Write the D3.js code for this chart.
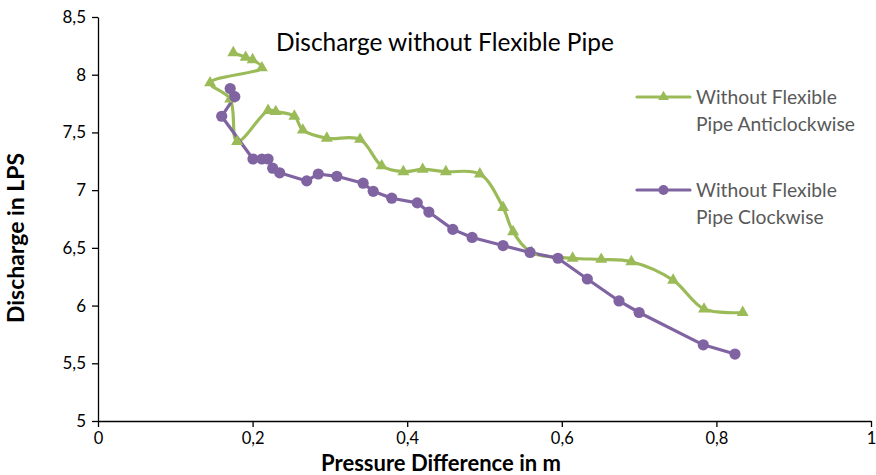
<!DOCTYPE html>
<html><head><meta charset="utf-8">
<script src="https://cdn.jsdelivr.net/npm/d3@7"></script>
<style>body{margin:0;background:#fff}svg{display:block}</style>
</head><body>
<svg id="c" width="876" height="475"></svg>
<script>
// ---- data ----
const chartTitle = "Discharge without Flexible Pipe";
const xTitle = "Pressure Difference in m";
const yTitle = "Discharge in LPS";
const seriesNames = [["Without Flexible", "Pipe Anticlockwise"], ["Without Flexible", "Pipe Clockwise"]];

const antiX = [0.175, 0.191, 0.2, 0.212, 0.145, 0.171, 0.180, 0.220, 0.230, 0.254, 0.265, 0.296, 0.339, 0.367, 0.395, 0.420, 0.450, 0.494, 0.524, 0.537, 0.561, 0.614, 0.651, 0.690, 0.744, 0.784, 0.834];
const antiY = [8.19, 8.15, 8.13, 8.06, 7.93, 7.79, 7.42, 7.69, 7.68, 7.64, 7.52, 7.45, 7.44, 7.21, 7.16, 7.18, 7.16, 7.14, 6.85, 6.64, 6.46, 6.41, 6.40, 6.38, 6.22, 5.97, 5.94];

const clockX = [0.171, 0.177, 0.160, 0.2005, 0.212, 0.220, 0.226, 0.235, 0.270, 0.285, 0.309, 0.343, 0.356, 0.380, 0.413, 0.428, 0.459, 0.484, 0.524, 0.559, 0.595, 0.633, 0.674, 0.700, 0.783, 0.824];
const clockY = [7.88, 7.81, 7.64, 7.27, 7.27, 7.27, 7.19, 7.15, 7.08, 7.14, 7.12, 7.06, 6.99, 6.93, 6.89, 6.81, 6.66, 6.59, 6.52, 6.46, 6.41, 6.23, 6.04, 5.94, 5.66, 5.58];

const xTicks = [0, 0.2, 0.4, 0.6, 0.8, 1];
const xTickLabels = ["0", "0,2", "0,4", "0,6", "0,8", "1"];
const yTicks = [5, 5.5, 6, 6.5, 7, 7.5, 8, 8.5];
const yTickLabels = ["5", "5,5", "6", "6,5", "7", "7,5", "8", "8,5"];

// ---- drawing ----
const GREEN = "#9BBB59", PURPLE = "#8064A2";
const FONT = "Lato, 'Open Sans', sans-serif";
const svg = d3.select("#c");
const x = d3.scaleLinear().domain([0, 1]).range([98, 871]);
const y = d3.scaleLinear().domain([5, 8.5]).range([421, 17]);

function fit(sel, w) {
  const n = sel.node();
  const fs = parseFloat(sel.attr("font-size"));
  const len = n.getComputedTextLength();
  sel.attr("font-size", (fs * w / len).toFixed(2));
}

// axes
const yAxis = d3.axisLeft(y).tickValues(yTicks).tickFormat((d, i) => yTickLabels[i]).tickSize(6).tickSizeOuter(0).tickPadding(6);
const xAxis = d3.axisBottom(x).tickValues(xTicks).tickFormat((d, i) => xTickLabels[i]).tickSize(6).tickSizeOuter(0).tickPadding(5);
const gy = svg.append("g").attr("transform", "translate(98,0)").call(yAxis);
const gx = svg.append("g").attr("transform", "translate(0,421)").call(xAxis);
[gx, gy].forEach(g => {
  g.selectAll("path,line").attr("stroke", "#000").attr("stroke-width", 1.3);
  g.selectAll("text").attr("font-family", FONT).attr("font-size", 17).attr("fill", "#000");
});
gx.selectAll("text").attr("font-size", 16.5);

// series
const anti = antiX.map((v, i) => [v, antiY[i]]);
const clock = clockX.map((v, i) => [v, clockY[i]]);
const lineSmooth = d3.line().x(d => x(d[0])).y(d => y(d[1])).curve(d3.curveCatmullRom.alpha(0.5));
const lineStraight = d3.line().x(d => x(d[0])).y(d => y(d[1]));

svg.append("path").attr("d", lineSmooth(anti)).attr("fill", "none").attr("stroke", GREEN).attr("stroke-width", 3.2).attr("stroke-linejoin", "round");
svg.append("path").attr("d", lineStraight(clock)).attr("fill", "none").attr("stroke", PURPLE).attr("stroke-width", 3.2).attr("stroke-linejoin", "round");

const tri = d3.symbol().type(d3.symbolTriangle).size(62);
svg.append("g").selectAll("path").data(anti).join("path")
  .attr("d", tri).attr("transform", d => `translate(${x(d[0])},${y(d[1])})`).attr("fill", GREEN);
svg.append("g").selectAll("circle").data(clock).join("circle")
  .attr("cx", d => x(d[0])).attr("cy", d => y(d[1])).attr("r", 5.6).attr("fill", PURPLE);

// title
const t = svg.append("text").attr("x", 445).attr("y", 51).attr("text-anchor", "middle")
  .attr("font-family", FONT).attr("font-size", 20).attr("fill", "#000").text(chartTitle);
fit(t, 338);

// axis titles
const xt = svg.append("text").attr("x", 441).attr("y", 471).attr("text-anchor", "middle")
  .attr("font-family", FONT).attr("font-weight", "bold").attr("font-size", 18).attr("fill", "#000").text(xTitle);
fit(xt, 240);
const yt = svg.append("text").attr("transform", "translate(24,238) rotate(-90)").attr("text-anchor", "middle")
  .attr("font-family", FONT).attr("font-weight", "bold").attr("font-size", 18).attr("fill", "#000").text(yTitle);
fit(yt, 170);

// legend
const legY = [97, 190];
const legColors = [GREEN, PURPLE];
const lg = svg.append("g");
let legFs = null;
seriesNames.forEach((lines, i) => {
  lg.append("line").attr("x1", 637).attr("x2", 690).attr("y1", legY[i]).attr("y2", legY[i])
    .attr("stroke", legColors[i]).attr("stroke-width", 3.2).attr("stroke-linecap", "round");
  if (i === 0) lg.append("path").attr("d", d3.symbol().type(d3.symbolTriangle).size(50)).attr("transform", `translate(663.5,${legY[i]})`).attr("fill", GREEN);
  else lg.append("circle").attr("cx", 663.5).attr("cy", legY[i]).attr("r", 5).attr("fill", PURPLE);
  lines.forEach((s, j) => {
    const tx = lg.append("text").attr("x", 696).attr("y", legY[i] + 7 + j * 27)
      .attr("font-family", FONT).attr("font-size", 17).attr("fill", "#595959").text(s);
    if (i === 0 && j === 1) { fit(tx, 159); legFs = tx.attr("font-size"); }
  });
});
lg.selectAll("text").attr("font-size", legFs);
</script>
</body></html>
